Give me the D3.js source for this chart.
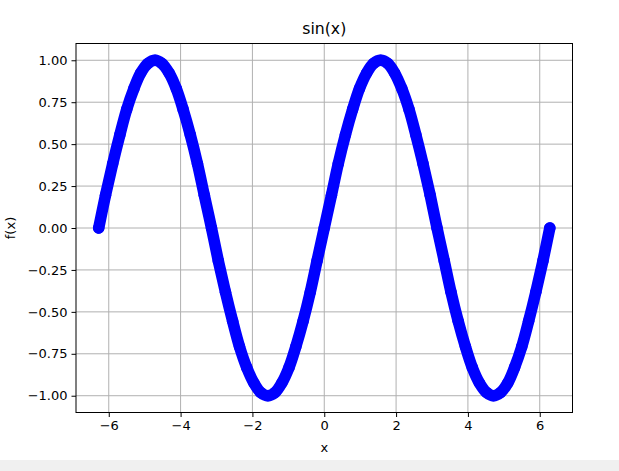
<!DOCTYPE html>
<html><head><meta charset="utf-8">
<script src="https://cdn.jsdelivr.net/npm/d3@7"></script>
<style>body{margin:0;background:#fff;overflow:hidden}svg{display:block}</style>
</head><body>
<script>
const xValues = [-6.28,-6.09,-5.89,-5.69,-5.50,-5.30,-5.11,-4.91,-4.71,-4.52,-4.32,-4.12,-3.93,-3.73,-3.53,-3.34,
  -3.14,-2.95,-2.75,-2.55,-2.36,-2.16,-1.96,-1.77,-1.57,-1.37,-1.18,-0.98,-0.79,-0.59,-0.39,-0.20,
  0,0.20,0.39,0.59,0.79,0.98,1.18,1.37,1.57,1.77,1.96,2.16,2.36,2.55,2.75,2.95,
  3.14,3.34,3.53,3.73,3.93,4.12,4.32,4.52,4.71,4.91,5.11,5.30,5.50,5.69,5.89,6.09,6.28];
const yValues = [0,0.195,0.383,0.556,0.707,0.831,0.924,0.981,1,0.981,0.924,0.831,0.707,0.556,0.383,0.195,
  0,-0.195,-0.383,-0.556,-0.707,-0.831,-0.924,-0.981,-1,-0.981,-0.924,-0.831,-0.707,-0.556,-0.383,-0.195,
  0,0.195,0.383,0.556,0.707,0.831,0.924,0.981,1,0.981,0.924,0.831,0.707,0.556,0.383,0.195,
  0,-0.195,-0.383,-0.556,-0.707,-0.831,-0.924,-0.981,-1,-0.981,-0.924,-0.831,-0.707,-0.556,-0.383,-0.195,0];
const xTicks = [-6,-4,-2,0,2,4,6];
const yTicks = [-1,-0.75,-0.5,-0.25,0,0.25,0.5,0.75,1];
const title = "sin(x)", xLabel = "x", yLabel = "f(x)";

const W = 619, H = 471;
const L = 76, R = 572.5, T = 43.5, B = 412.5;
const svg = d3.select("body").append("svg").attr("width", W).attr("height", H)
  .style("font-family", "DejaVu Sans, sans-serif");
svg.append("rect").attr("width", W).attr("height", H).attr("fill", "#fff");
svg.append("rect").attr("x", 0).attr("y", 460).attr("width", W).attr("height", H - 460).attr("fill", "#f0f0f0");

const x = d3.scaleLinear().domain([-6.912, 6.912]).range([L, R]);
const y = d3.scaleLinear().domain([-1.1, 1.1]).range([B, T]);

// grid
const g = svg.append("g");
g.selectAll(".gx").data(xTicks).join("line")
  .attr("x1", d => x(d)).attr("x2", d => x(d)).attr("y1", T).attr("y2", B)
  .attr("stroke", "#b0b0b0").attr("stroke-width", 1);
g.selectAll(".gy").data(yTicks).join("line")
  .attr("y1", d => y(d)).attr("y2", d => y(d)).attr("x1", L).attr("x2", R)
  .attr("stroke", "#b0b0b0").attr("stroke-width", 1);

// data
const pts = xValues.map((v, i) => [v, yValues[i]]);
svg.append("path").datum(pts)
  .attr("d", d3.line().x(d => x(d[0])).y(d => y(d[1])).curve(d3.curveCatmullRom))
  .attr("fill", "none").attr("stroke", "#0000ff").attr("stroke-width", 11.5)
  .attr("stroke-linecap", "round").attr("stroke-linejoin", "round");
svg.append("g").selectAll("circle").data(pts).join("circle")
  .attr("cx", d => x(d[0])).attr("cy", d => y(d[1])).attr("r", 5.75).attr("fill", "#0000ff");

// axes
const xa = svg.append("g").attr("transform", `translate(0,${B})`)
  .call(d3.axisBottom(x).tickValues(xTicks).tickSize(4.5).tickPadding(4).tickFormat(d => d3.format("")(d).replace("-", "\u2212")));
const ya = svg.append("g").attr("transform", `translate(${L},0)`)
  .call(d3.axisLeft(y).tickValues(yTicks).tickSize(4.5).tickPadding(4).tickFormat(d => d3.format(".2f")(d).replace("-", "\u2212")));
[xa, ya].forEach(a => {
  a.select(".domain").remove();
  a.selectAll("line").attr("stroke", "#000").attr("stroke-width", 1);
  a.selectAll("text").attr("fill", "#000").style("font-size", "13px").style("font-family", "DejaVu Sans, sans-serif");
});
svg.append("rect").attr("x", L).attr("y", T).attr("width", R - L).attr("height", B - T)
  .attr("fill", "none").attr("stroke", "#000").attr("stroke-width", 1);

svg.append("text").attr("x", (L + R) / 2).attr("y", 34).attr("text-anchor", "middle")
  .style("font-size", "15.7px").text(title);
svg.append("text").attr("x", (L + R) / 2).attr("y", 452).attr("text-anchor", "middle")
  .style("font-size", "13px").text(xLabel);
svg.append("text").attr("transform", `translate(15,${(T + B) / 2}) rotate(-90)`).attr("text-anchor", "middle")
  .style("font-size", "13px").text(yLabel);
</script>
</body></html>
